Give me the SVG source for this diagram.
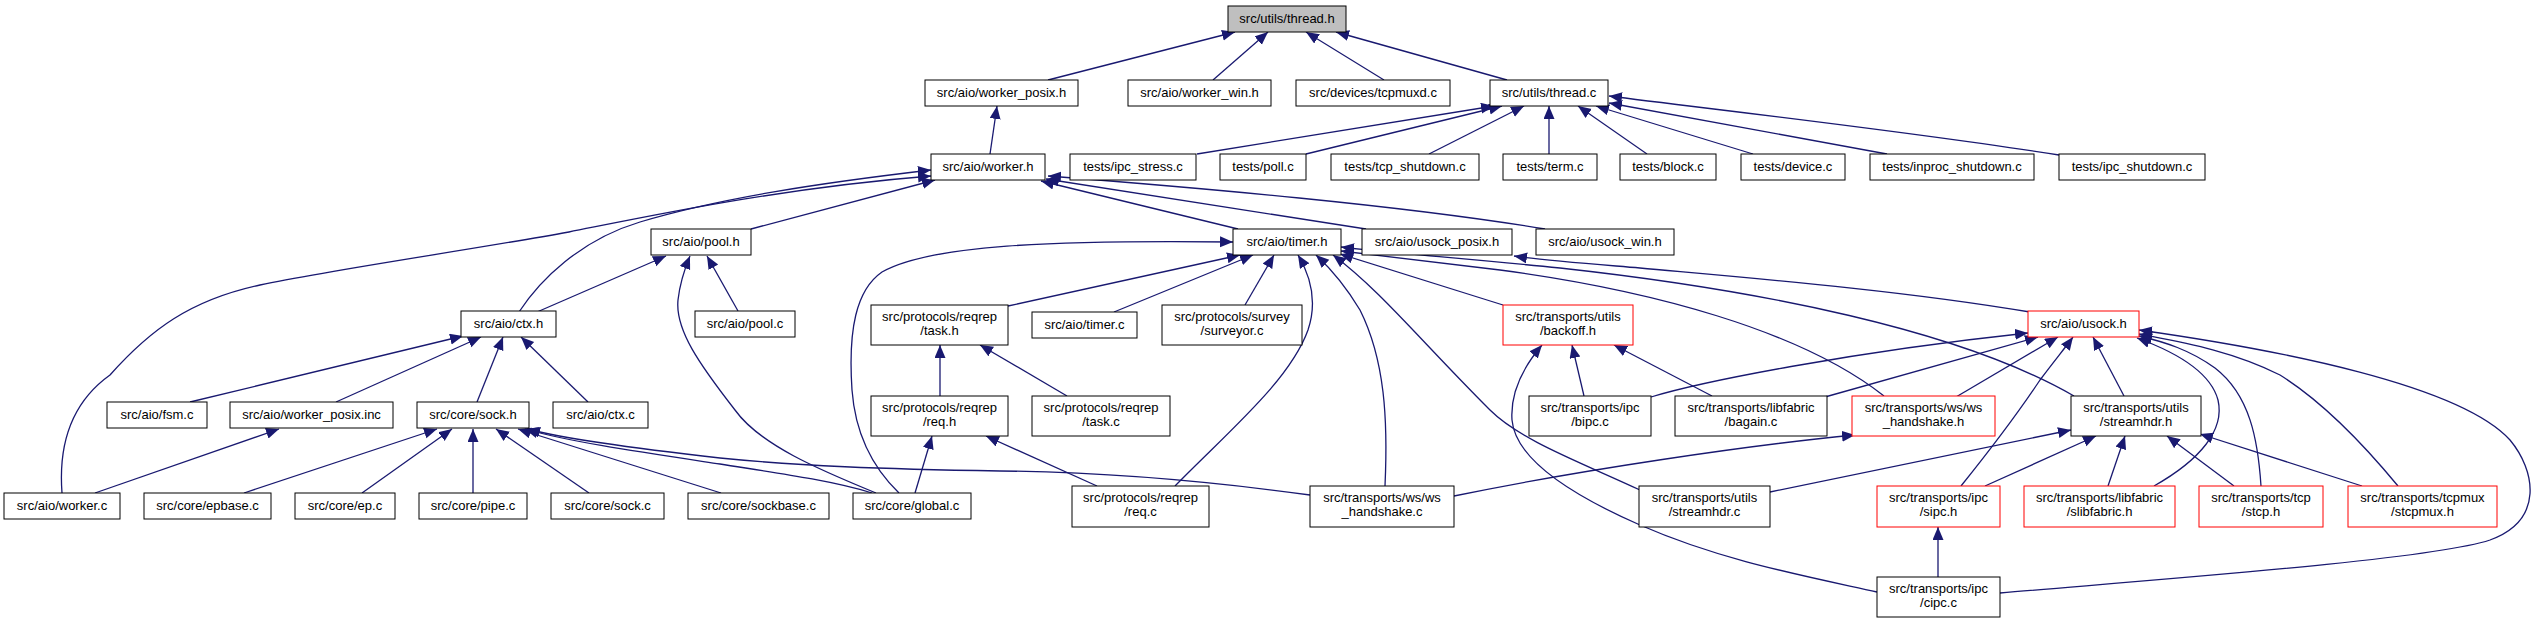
<svg xmlns="http://www.w3.org/2000/svg" width="2537" height="624" viewBox="0 0 2537 624">
<style>
rect{fill:#fff;stroke:#000;stroke-width:1}
.r rect{stroke:#f00}
.g rect{fill:#bfbfbf}
text{font-family:"Liberation Sans",Arial,Helvetica,sans-serif;font-size:13px;text-anchor:middle;fill:#000}
#edges path{fill:none;stroke:#191970;stroke-width:1.3;marker-end:url(#a)}
</style>
<defs>
<marker id="a" markerUnits="userSpaceOnUse" markerWidth="14" markerHeight="12" refX="13" refY="5.5" orient="auto"><path d="M0,0 L13,5.5 L0,11 z" fill="#191970"/></marker>
</defs>
<rect x="0" y="0" width="2537" height="624" style="fill:#fff;stroke:none"/>
<g id="edges">
<path d="M1048,80 L1235,32"/>
<path d="M1213,80 L1268,32"/>
<path d="M1384,80 L1306,32"/>
<path d="M1507,80 L1336,32"/>
<path d="M1197,154 L1494,106"/>
<path d="M1306,154 L1502,106"/>
<path d="M1429,154 L1524,106"/>
<path d="M1549,154 L1549,106"/>
<path d="M1647,154 L1578,106"/>
<path d="M1753,154 L1596,106"/>
<path d="M1887,154 L1609,103"/>
<path d="M2059,155 C1900,130 1700,108 1609,96"/>
<path d="M990,154 L997,106"/>
<path d="M519,312 C540,280 580,240 640,222 C720,198 820,183 931,170"/>
<path d="M62,493 C58,440 75,400 110,375 C150,330 190,300 260,285 C330,270 470,250 569,232 C650,216 780,188 931,176"/>
<path d="M751,229 L935,180"/>
<path d="M1238,229 L1041,181"/>
<path d="M1366,229 L1046,179"/>
<path d="M1545,229 C1400,205 1200,188 1048,176"/>
<path d="M537,312 L666,256"/>
<path d="M876,493 C820,470 760,445 735,410 C700,365 675,330 678,300 C680,282 685,268 690,256"/>
<path d="M738,311 L707,256"/>
<path d="M190,402 L463,336"/>
<path d="M336,402 L481,337"/>
<path d="M477,402 L503,337"/>
<path d="M588,402 L521,337"/>
<path d="M95,493 L279,429"/>
<path d="M244,493 L437,429"/>
<path d="M362,493 L452,429"/>
<path d="M473,493 L473,429"/>
<path d="M589,493 L496,429"/>
<path d="M721,493 L518,429"/>
<path d="M872,493 C830,480 770,472 720,464 C640,452 570,442 525,429"/>
<path d="M1310,495 C1200,480 1100,472 1000,471 C880,469 800,466 720,458 C640,449 570,440 527,429"/>
<path d="M915,493 L932,436"/>
<path d="M899,493 C870,465 855,430 852,390 C848,330 856,290 882,272 C930,245 1050,240 1233,242"/>
<path d="M1008,306 L1240,255"/>
<path d="M1114,312 L1253,255"/>
<path d="M1245,305 L1274,255"/>
<path d="M1175,486 C1230,430 1290,380 1308,330 C1318,300 1310,275 1298,255"/>
<path d="M1385,486 C1388,420 1385,360 1360,310 C1345,285 1330,268 1316,255"/>
<path d="M1640,490 C1580,462 1520,440 1490,410 C1420,340 1380,290 1333,255"/>
<path d="M1503,305 L1340,254"/>
<path d="M1884,396 C1800,330 1650,290 1500,270 C1420,260 1375,255 1341,251"/>
<path d="M2074,396 C1960,330 1760,290 1560,268 C1460,258 1380,252 1341,247"/>
<path d="M2030,312 C1900,290 1750,278 1640,268 C1580,263 1540,260 1514,256"/>
<path d="M940,396 L940,345"/>
<path d="M1067,396 L980,345"/>
<path d="M1097,486 L986,436"/>
<path d="M1584,396 L1572,345"/>
<path d="M1712,396 L1614,345"/>
<path d="M1877,592 C1800,575 1720,560 1640,525 C1560,490 1515,455 1512,420 C1510,390 1525,365 1542,345"/>
<path d="M1651,397 C1700,382 1850,352 2028,333"/>
<path d="M1825,397 L2038,337"/>
<path d="M1956,397 L2058,337"/>
<path d="M1961,486 C1990,450 2020,410 2040,380 C2055,360 2065,348 2073,337"/>
<path d="M2124,396 L2093,337"/>
<path d="M2154,486 C2200,460 2225,430 2218,400 C2210,370 2170,350 2137,338"/>
<path d="M2261,486 C2258,440 2250,395 2215,368 C2190,350 2165,342 2139,336"/>
<path d="M2398,486 C2360,440 2320,400 2280,375 C2230,350 2180,342 2139,334"/>
<path d="M2000,593 C2150,580 2430,560 2490,540 C2545,520 2535,470 2510,440 C2460,385 2280,350 2139,330"/>
<path d="M1770,492 L2071,430"/>
<path d="M1985,486 L2096,436"/>
<path d="M2108,486 L2125,436"/>
<path d="M2234,486 L2167,436"/>
<path d="M2362,486 L2200,434"/>
<path d="M1454,496 C1580,470 1750,445 1855,435"/>
<path d="M1938,577 L1938,527"/>
</g>
<g id="thread_h" class="g"><rect x="1228" y="6" width="118" height="26"/><text x="1287" y="23">src/utils/thread.h</text></g>
<g id="worker_posix_h"><rect x="925" y="80" width="153" height="26"/><text x="1001.5" y="97">src/aio/worker_posix.h</text></g>
<g id="worker_win_h"><rect x="1128" y="80" width="143" height="26"/><text x="1199.5" y="97">src/aio/worker_win.h</text></g>
<g id="tcpmuxd_c"><rect x="1296" y="80" width="154" height="26"/><text x="1373" y="97">src/devices/tcpmuxd.c</text></g>
<g id="thread_c"><rect x="1490" y="80" width="118" height="26"/><text x="1549" y="97">src/utils/thread.c</text></g>
<g id="worker_h"><rect x="931" y="154" width="114" height="26"/><text x="988" y="171">src/aio/worker.h</text></g>
<g id="ipc_stress_c"><rect x="1070" y="154" width="126" height="26"/><text x="1133" y="171">tests/ipc_stress.c</text></g>
<g id="poll_c"><rect x="1220" y="154" width="86" height="26"/><text x="1263" y="171">tests/poll.c</text></g>
<g id="tcp_shutdown_c"><rect x="1331" y="154" width="148" height="26"/><text x="1405" y="171">tests/tcp_shutdown.c</text></g>
<g id="term_c"><rect x="1503" y="154" width="94" height="26"/><text x="1550" y="171">tests/term.c</text></g>
<g id="block_c"><rect x="1620" y="154" width="96" height="26"/><text x="1668" y="171">tests/block.c</text></g>
<g id="device_c"><rect x="1741" y="154" width="104" height="26"/><text x="1793" y="171">tests/device.c</text></g>
<g id="inproc_shutdown_c"><rect x="1870" y="154" width="164" height="26"/><text x="1952" y="171">tests/inproc_shutdown.c</text></g>
<g id="ipc_shutdown_c"><rect x="2059" y="154" width="146" height="26"/><text x="2132" y="171">tests/ipc_shutdown.c</text></g>
<g id="pool_h"><rect x="651" y="229" width="100" height="26"/><text x="701" y="246">src/aio/pool.h</text></g>
<g id="timer_h"><rect x="1233" y="229" width="108" height="26"/><text x="1287" y="246">src/aio/timer.h</text></g>
<g id="usock_posix_h"><rect x="1362" y="229" width="150" height="26"/><text x="1437" y="246">src/aio/usock_posix.h</text></g>
<g id="usock_win_h"><rect x="1536" y="229" width="138" height="26"/><text x="1605" y="246">src/aio/usock_win.h</text></g>
<g id="ctx_h"><rect x="461" y="311" width="95" height="26"/><text x="508.5" y="328">src/aio/ctx.h</text></g>
<g id="pool_c"><rect x="695" y="311" width="100" height="26"/><text x="745" y="328">src/aio/pool.c</text></g>
<g id="task_h"><rect x="871" y="305" width="137" height="40"/><text x="939.5" y="321">src/protocols/reqrep</text><text x="939.5" y="335">/task.h</text></g>
<g id="timer_c"><rect x="1032" y="312" width="105" height="26"/><text x="1084.5" y="329">src/aio/timer.c</text></g>
<g id="surveyor_c"><rect x="1162" y="305" width="140" height="40"/><text x="1232" y="321">src/protocols/survey</text><text x="1232" y="335">/surveyor.c</text></g>
<g id="backoff_h" class="r"><rect x="1503" y="305" width="130" height="40"/><text x="1568" y="321">src/transports/utils</text><text x="1568" y="335">/backoff.h</text></g>
<g id="usock_h" class="r"><rect x="2028" y="311" width="111" height="26"/><text x="2083.5" y="328">src/aio/usock.h</text></g>
<g id="fsm_c"><rect x="107" y="402" width="100" height="26"/><text x="157" y="419">src/aio/fsm.c</text></g>
<g id="worker_posix_inc"><rect x="230" y="402" width="163" height="26"/><text x="311.5" y="419">src/aio/worker_posix.inc</text></g>
<g id="sock_h"><rect x="417" y="402" width="112" height="26"/><text x="473" y="419">src/core/sock.h</text></g>
<g id="ctx_c"><rect x="553" y="402" width="95" height="26"/><text x="600.5" y="419">src/aio/ctx.c</text></g>
<g id="req_h"><rect x="871" y="396" width="137" height="40"/><text x="939.5" y="412">src/protocols/reqrep</text><text x="939.5" y="426">/req.h</text></g>
<g id="task_c"><rect x="1032" y="396" width="138" height="40"/><text x="1101" y="412">src/protocols/reqrep</text><text x="1101" y="426">/task.c</text></g>
<g id="bipc_c"><rect x="1529" y="396" width="122" height="40"/><text x="1590" y="412">src/transports/ipc</text><text x="1590" y="426">/bipc.c</text></g>
<g id="bagain_c"><rect x="1675" y="396" width="152" height="40"/><text x="1751" y="412">src/transports/libfabric</text><text x="1751" y="426">/bagain.c</text></g>
<g id="ws_handshake_h" class="r"><rect x="1852" y="396" width="143" height="40"/><text x="1923.5" y="412">src/transports/ws/ws</text><text x="1923.5" y="426">_handshake.h</text></g>
<g id="streamhdr_h"><rect x="2071" y="396" width="130" height="40"/><text x="2136" y="412">src/transports/utils</text><text x="2136" y="426">/streamhdr.h</text></g>
<g id="worker_c"><rect x="4" y="493" width="116" height="26"/><text x="62" y="510">src/aio/worker.c</text></g>
<g id="epbase_c"><rect x="144" y="493" width="127" height="26"/><text x="207.5" y="510">src/core/epbase.c</text></g>
<g id="ep_c"><rect x="295" y="493" width="100" height="26"/><text x="345" y="510">src/core/ep.c</text></g>
<g id="pipe_c"><rect x="419" y="493" width="108" height="26"/><text x="473" y="510">src/core/pipe.c</text></g>
<g id="sock_c"><rect x="551" y="493" width="113" height="26"/><text x="607.5" y="510">src/core/sock.c</text></g>
<g id="sockbase_c"><rect x="688" y="493" width="141" height="26"/><text x="758.5" y="510">src/core/sockbase.c</text></g>
<g id="global_c"><rect x="853" y="493" width="118" height="26"/><text x="912" y="510">src/core/global.c</text></g>
<g id="req_c"><rect x="1072" y="486" width="137" height="41"/><text x="1140.5" y="502">src/protocols/reqrep</text><text x="1140.5" y="516">/req.c</text></g>
<g id="ws_handshake_c"><rect x="1310" y="486" width="144" height="41"/><text x="1382" y="502">src/transports/ws/ws</text><text x="1382" y="516">_handshake.c</text></g>
<g id="streamhdr_c"><rect x="1639" y="486" width="131" height="41"/><text x="1704.5" y="502">src/transports/utils</text><text x="1704.5" y="516">/streamhdr.c</text></g>
<g id="sipc_h" class="r"><rect x="1877" y="486" width="123" height="41"/><text x="1938.5" y="502">src/transports/ipc</text><text x="1938.5" y="516">/sipc.h</text></g>
<g id="slibfabric_h" class="r"><rect x="2024" y="486" width="151" height="41"/><text x="2099.5" y="502">src/transports/libfabric</text><text x="2099.5" y="516">/slibfabric.h</text></g>
<g id="stcp_h" class="r"><rect x="2199" y="486" width="124" height="41"/><text x="2261" y="502">src/transports/tcp</text><text x="2261" y="516">/stcp.h</text></g>
<g id="stcpmux_h" class="r"><rect x="2348" y="486" width="149" height="41"/><text x="2422.5" y="502">src/transports/tcpmux</text><text x="2422.5" y="516">/stcpmux.h</text></g>
<g id="cipc_c"><rect x="1877" y="577" width="123" height="40"/><text x="1938.5" y="593">src/transports/ipc</text><text x="1938.5" y="607">/cipc.c</text></g>
</svg>
